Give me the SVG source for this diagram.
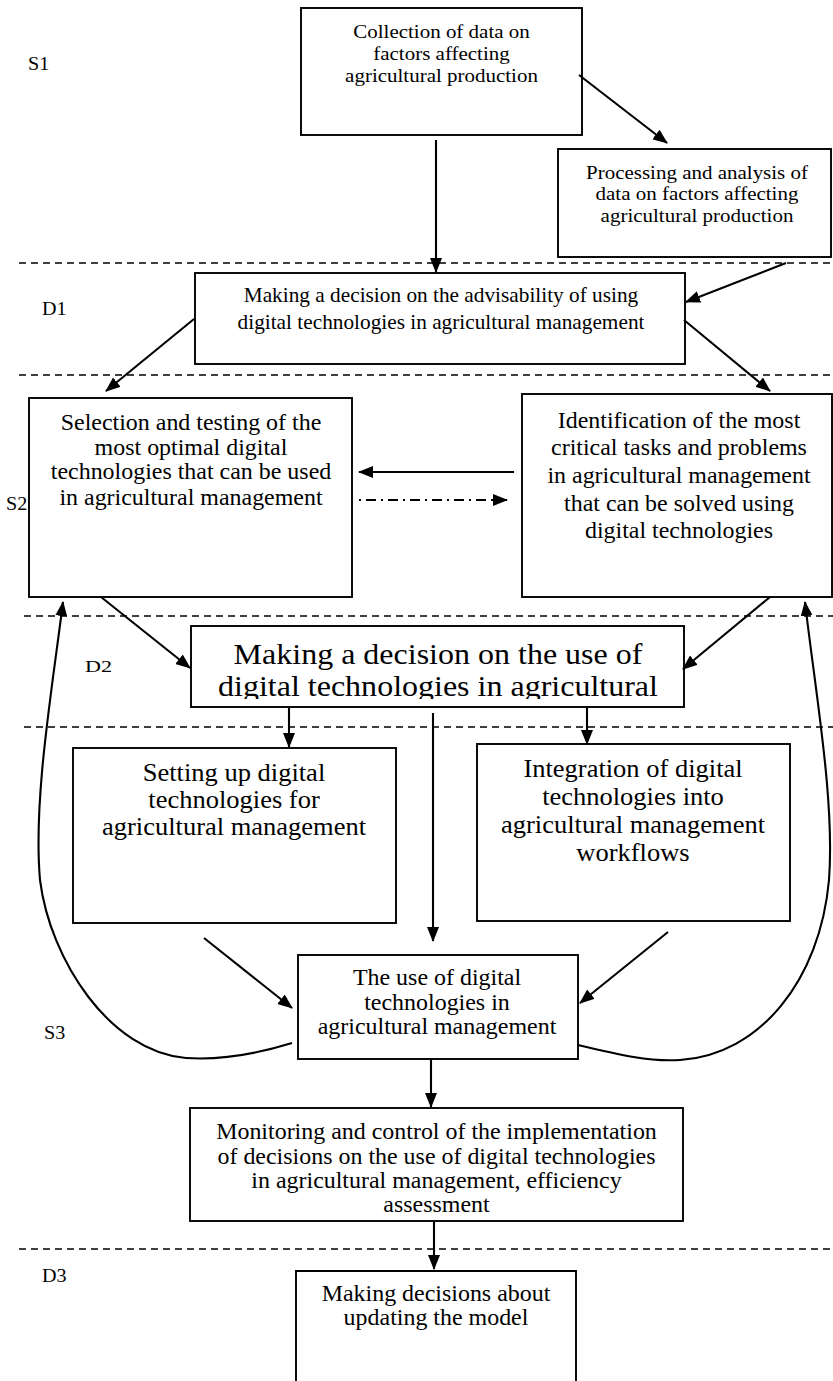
<svg xmlns="http://www.w3.org/2000/svg" width="833" height="1381" viewBox="0 0 833 1381">
<style>
.bg{fill:#fff}
.box{fill:#fff;stroke:#000;stroke-width:1.9}
.t{font-family:"Liberation Serif","Times New Roman",serif;fill:#000;text-anchor:middle}
.lb{font-family:"Liberation Serif","Times New Roman",serif;fill:#000;font-size:19px}
.sep{stroke:#000;stroke-width:1.6;stroke-dasharray:7 5;fill:none}
.c{stroke:#000;stroke-width:2.1;fill:none;marker-end:url(#ah)}
.dd{stroke:#000;stroke-width:2.1;fill:none;stroke-dasharray:2 5 10 5;marker-end:url(#ah)}
</style>
<defs>
<marker id="ah" markerUnits="userSpaceOnUse" markerWidth="15" markerHeight="12" refX="14" refY="6" orient="auto">
<path d="M0,0 L15,6 L0,12 z" fill="#000"/>
</marker>
<clipPath id="c2"><rect x="191" y="626" width="493" height="73"/></clipPath>
</defs>
<rect class="bg" x="0" y="0" width="833" height="1381"/>

<g id="separators">
<line class="sep" x1="19" y1="263" x2="833" y2="263"/>
<line class="sep" x1="19" y1="375" x2="833" y2="375"/>
<line class="sep" x1="24" y1="616" x2="833" y2="616"/>
<line class="sep" x1="24" y1="727" x2="833" y2="727"/>
<line class="sep" x1="19" y1="1249" x2="833" y2="1249"/>
</g>

<g id="labels">
<text class="lb" transform="translate(28 70) scale(1.06 1)">S1</text>
<text class="lb" transform="translate(42 315) scale(1.06 1)">D1</text>
<text class="lb" transform="translate(6 510) scale(1.06 1)">S2</text>
<text class="lb" style="font-size:17px" transform="translate(85 672) scale(1.3 1)">D2</text>
<text class="lb" transform="translate(44 1039) scale(1.06 1)">S3</text>
<text class="lb" transform="translate(42 1282) scale(1.06 1)">D3</text>
</g>

<g id="n-collection">
<rect class="box" x="301" y="8" width="281" height="127"/>
<g transform="translate(441.5 0) scale(1.06 1)"><text class="t" style="font-size:19.8px"><tspan x="0" y="38.5">Collection of data on</tspan><tspan x="0" y="60">factors affecting</tspan><tspan x="0" y="82">agricultural production</tspan></text></g>
</g>

<g id="n-processing">
<rect class="box" x="558" y="149" width="273" height="108"/>
<g transform="translate(697 0) scale(1.06 1)"><text class="t" style="font-size:19.8px"><tspan x="0" y="179">Processing and analysis of</tspan><tspan x="0" y="200.5">data on factors affecting</tspan><tspan x="0" y="222">agricultural production</tspan></text></g>
</g>

<g id="n-d1">
<rect class="box" x="195" y="273" width="490" height="91"/>
<g transform="translate(441 0) scale(1.06 1)"><text class="t" style="font-size:20.1px"><tspan x="0" y="302">Making a decision on the advisability of using</tspan><tspan x="0" y="329">digital technologies in agricultural management</tspan></text></g>
</g>

<g id="n-selection">
<rect class="box" x="29" y="398" width="323" height="199"/>
<g transform="translate(191 0) scale(1.06 1)"><text class="t" style="font-size:22.6px"><tspan x="0" y="430">Selection and testing of the</tspan><tspan x="0" y="455">most optimal digital</tspan><tspan x="0" y="479.5">technologies that can be used</tspan><tspan x="0" y="505">in agricultural management</tspan></text></g>
</g>

<g id="n-identification">
<rect class="box" x="522" y="394" width="310" height="203"/>
<g transform="translate(679 0) scale(1.06 1)"><text class="t" style="font-size:22.6px"><tspan x="0" y="428">Identification of the most</tspan><tspan x="0" y="455">critical tasks and problems</tspan><tspan x="0" y="483">in agricultural management</tspan><tspan x="0" y="511">that can be solved using</tspan><tspan x="0" y="538">digital technologies</tspan></text></g>
</g>

<g id="n-d2">
<rect class="box" x="191" y="626" width="493" height="81"/>
<g clip-path="url(#c2)"><g transform="translate(438 0) scale(1.06 1)"><text class="t" style="font-size:30.2px"><tspan x="0" y="664">Making a decision on the use of</tspan><tspan x="0" y="696">digital technologies in agricultural</tspan></text></g></g>
</g>

<g id="n-setting">
<rect class="box" x="73" y="748" width="323" height="175"/>
<g transform="translate(234 0) scale(1.06 1)"><text class="t" style="font-size:25px"><tspan x="0" y="781">Setting up digital</tspan><tspan x="0" y="808">technologies for</tspan><tspan x="0" y="835">agricultural management</tspan></text></g>
</g>

<g id="n-integration">
<rect class="box" x="477" y="744" width="313" height="177"/>
<g transform="translate(633 0) scale(1.06 1)"><text class="t" style="font-size:25px"><tspan x="0" y="777">Integration of digital</tspan><tspan x="0" y="805">technologies into</tspan><tspan x="0" y="833">agricultural management</tspan><tspan x="0" y="861">workflows</tspan></text></g>
</g>

<g id="n-use">
<rect class="box" x="298" y="955" width="280" height="104"/>
<g transform="translate(437 0) scale(1.06 1)"><text class="t" style="font-size:22.6px"><tspan x="0" y="985.5">The use of digital</tspan><tspan x="0" y="1010">technologies in</tspan><tspan x="0" y="1034.5">agricultural management</tspan></text></g>
</g>

<g id="n-monitoring">
<rect class="box" x="190" y="1108" width="493" height="113"/>
<g transform="translate(436.5 0) scale(1.06 1)"><text class="t" style="font-size:22.6px"><tspan x="0" y="1139.5">Monitoring and control of the implementation</tspan><tspan x="0" y="1164">of decisions on the use of digital technologies</tspan><tspan x="0" y="1188.5">in agricultural management, efficiency</tspan><tspan x="0" y="1212.5">assessment</tspan></text></g>
</g>

<g id="n-d3">
<path class="box" d="M296,1383 V1271 H576 V1383"/>
<g transform="translate(436 0) scale(1.06 1)"><text class="t" style="font-size:22.6px"><tspan x="0" y="1301.5">Making decisions about</tspan><tspan x="0" y="1325.5">updating the model</tspan></text></g>
</g>

<g id="connectors">
<line class="c" x1="436" y1="140" x2="436" y2="272"/>
<line class="c" x1="579" y1="75" x2="667" y2="143"/>
<line class="c" x1="786" y1="263" x2="686" y2="302"/>
<line class="c" x1="194" y1="319" x2="106" y2="391"/>
<line class="c" x1="684" y1="320" x2="770" y2="391"/>
<line class="c" x1="514" y1="472" x2="359" y2="472"/>
<line class="dd" x1="359" y1="500" x2="507" y2="500"/>
<line class="c" x1="101" y1="597" x2="190" y2="668"/>
<line class="c" x1="770" y1="597" x2="683" y2="669"/>
<line class="c" x1="289" y1="708" x2="289" y2="747"/>
<line class="c" x1="587" y1="708" x2="587" y2="744"/>
<line class="c" x1="433" y1="713" x2="433" y2="941"/>
<line class="c" x1="204" y1="938" x2="292" y2="1008"/>
<line class="c" x1="668" y1="932" x2="580" y2="1003"/>
<line class="c" x1="431" y1="1059" x2="431" y2="1107"/>
<line class="c" x1="434" y1="1221" x2="434" y2="1269"/>
<path class="c" d="M292,1043 C250,1056 215,1060 186,1058 C110,1052 50,960 40,880 C33,800 52,690 63,602"/>
<path class="c" d="M578,1045 C620,1055 650,1062 680,1060 C760,1055 820,980 829,880 C835,800 815,690 805,602"/>
</g>
</svg>
